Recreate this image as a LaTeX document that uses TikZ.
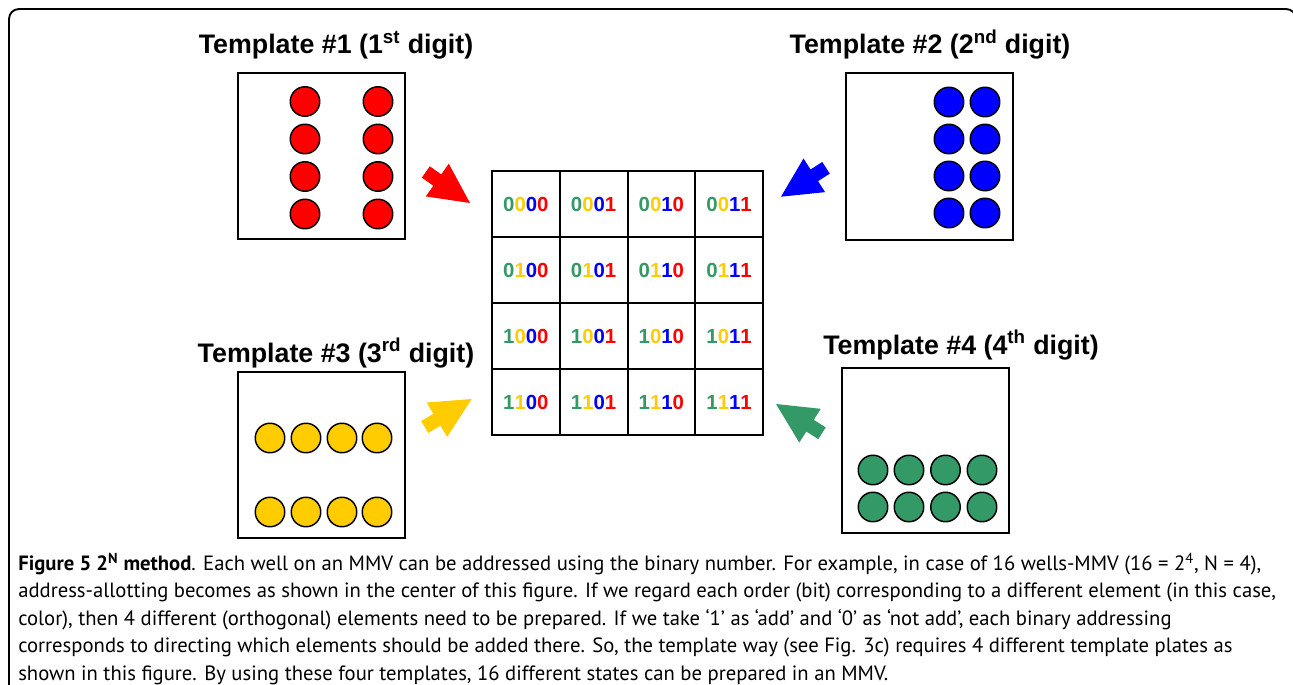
\documentclass[tikz,border=0pt]{standalone}
\usepackage{fontspec}
\setmainfont{Liberation Sans}
\newfontfamily\capfont{PT Sans}
\usetikzlibrary{calc}

\definecolor{dred}{RGB}{255,0,0}
\definecolor{dblue}{RGB}{0,0,255}
\definecolor{dyellow}{RGB}{255,204,0}
\definecolor{dgreen}{RGB}{51,153,102}

\def\px{0.75pt}

% four coloured bits of an address
\newcommand\bits[4]{\textcolor{dgreen}{#1}\textcolor{dyellow}{#2}\textcolor{dblue}{#3}\textcolor{dred}{#4}}

% block arrow from a tail coordinate to a tip coordinate
\newcommand\blockarrow[3]{%
  \path ($(#2)!0.26!(#3)$) coordinate (bj);
  \fill[#1] ($(#2)!5.2pt!90:(#3)$) -- ($(bj)!5.2pt!90:(#3)$) -- ($(bj)!15pt!90:(#3)$)
    -- (#3) -- ($(bj)!15pt!-90:(#3)$) -- ($(bj)!5.2pt!-90:(#3)$) -- ($(#2)!5.2pt!-90:(#3)$) -- cycle;
}

\tikzset{
  frame/.style={draw, line width=1.4pt, rounded corners=7.5pt},
  plate/.style={draw, line width=1.5pt, inner sep=0pt, outer sep=0pt,
    minimum width=167*\px, minimum height=166*\px},
  well/.style={circle, draw, line width=1.1pt, inner sep=0pt, minimum size=29.5*\px},
  title/.style={font=\bfseries\fontsize{20.1}{22}\selectfont, inner sep=0pt, anchor=base},
  cell/.style={draw, line width=1.5pt, inner sep=0pt, outer sep=0pt,
    minimum width=67.75*\px, minimum height=66*\px,
    font=\bfseries\fontsize{15.3}{17}\selectfont},
  captext/.style={font=\capfont\fontsize{15.5}{18}\selectfont, inner sep=0pt, anchor=base west},
}

\begin{document}
\begin{tikzpicture}[x=0.75pt, y=-0.75pt]
\useasboundingbox (0,0) rectangle (1293,685);
\begin{scope}
  \clip (0,0) rectangle (1293,685);
  \draw[frame] (9,9) rectangle (1296,700);
\end{scope}

% titles
\node[title] (t1) at (336,54) {Template \#1 (1\textsuperscript{st} digit)};
\node[title] (t2) at (930,54) {Template \#2 (2\textsuperscript{nd} digit)};
\node[title] (t3) at (336,362) {Template \#3 (3\textsuperscript{rd} digit)};
\node[title] (t4) at (961,354) {Template \#4 (4\textsuperscript{th} digit)};

% template plates
\node[plate] (p1) at (321.5,156) {};
\node[plate] (p2) at (929.5,156.5) {};
\node[plate] (p3) at (321.5,454.5) {};
\node[plate, minimum height=165*\px] (p4) at (925.5,450) {};

% wells of template 1 (two columns)
\foreach \x in {305,378} \foreach \y in {101.5,139,176.5,214}
  \node[well, fill=dred] at (\x,\y) {};
% wells of template 2 (two adjacent columns)
\foreach \x in {949,985} \foreach \y in {102,139,176,213}
  \node[well, fill=dblue] at (\x,\y) {};
% wells of template 3 (two separated rows)
\foreach \x in {270,306,342,377} \foreach \y in {438,512}
  \node[well, fill=dyellow] at (\x,\y) {};
% wells of template 4 (two adjacent rows)
\foreach \x in {873,909,945.5,982} \foreach \y in {470,507}
  \node[well, fill=dgreen] at (\x,\y) {};

% address grid
\foreach \i in {0,1,2,3} {
  \foreach \j in {0,1,2,3} {
    \pgfmathtruncatemacro\da{int(\i/2)}
    \pgfmathtruncatemacro\db{mod(\i,2)}
    \pgfmathtruncatemacro\dc{int(\j/2)}
    \pgfmathtruncatemacro\dd{mod(\j,2)}
    \node[cell] (cell-\i-\j) at ({492+67.75*(\j+0.5)},{171+66*(\i+0.5)}) {\bits{\da}{\db}{\dc}{\dd}};
  }
}

% arrows towards the grid
\coordinate (a1t) at (425.8,172);  \coordinate (a1h) at (470,203);
\coordinate (a2t) at (826,167.8);  \coordinate (a2h) at (781,196.7);
\coordinate (a3t) at (424.7,427);  \coordinate (a3h) at (471.7,399);
\coordinate (a4t) at (822,433.3);  \coordinate (a4h) at (776,404);
\blockarrow{dred}{a1t}{a1h}
\blockarrow{dblue}{a2t}{a2h}
\blockarrow{dyellow}{a3t}{a3h}
\blockarrow{dgreen}{a4t}{a4h}

% caption
\node[captext] (l1) at (18,570) {\textbf{Figure 5 2\textsuperscript{N} method}. Each well on an MMV can be addressed using the binary number. For example, in case of 16 wells-MMV (16 = 2\textsuperscript{4}, N = 4),};
\node[captext] (l2) at (18,597.5) {address-allotting becomes as shown in the center of this figure. If we regard each order (bit) corresponding to a different element (in this case,};
\node[captext] (l3) at (18,625) {color), then 4 different (orthogonal) elements need to be prepared. If we take ‘1’ as ‘add’ and ‘0’ as ‘not add’, each binary addressing};
\node[captext] (l4) at (18,652.5) {corresponds to directing which elements should be added there. So, the template way (see Fig. 3c) requires 4 different template plates as};
\node[captext] (l5) at (18,680) {shown in this figure. By using these four templates, 16 different states can be prepared in an MMV.};
\end{tikzpicture}
\end{document}
